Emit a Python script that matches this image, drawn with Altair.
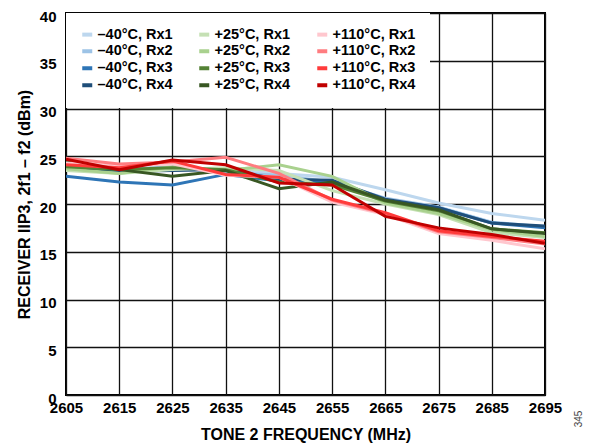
import altair as alt
import pandas as pd

freqs = [2605, 2615, 2625, 2635, 2645, 2655, 2665, 2675, 2685, 2695]

series_names = [
    "–40°C, Rx1", "–40°C, Rx2", "–40°C, Rx3", "–40°C, Rx4",
    "+25°C, Rx1", "+25°C, Rx2", "+25°C, Rx3", "+25°C, Rx4",
    "+110°C, Rx1", "+110°C, Rx2", "+110°C, Rx3", "+110°C, Rx4",
]

m40_rx1 = [23.8, 23.5, 23.8, 23.6, 23.2, 22.8, 21.5, 20.1, 19.0, 18.3]
m40_rx2 = [24.0, 23.6, 23.9, 23.3, 23.0, 22.3, 20.6, 19.7, 18.1, 17.6]
m40_rx3 = [22.9, 22.3, 22.0, 23.1, 22.4, 22.2, 20.4, 19.6, 18.0, 17.5]
m40_rx4 = [23.6, 23.4, 23.5, 23.6, 22.6, 22.5, 20.5, 19.6, 18.0, 17.7]
p25_rx1 = [23.5, 23.2, 23.6, 23.8, 23.5, 21.4, 20.0, 18.9, 17.0, 16.5]
p25_rx2 = [23.7, 23.2, 23.9, 23.5, 24.1, 22.9, 20.1, 19.0, 17.3, 16.6]
p25_rx3 = [23.9, 23.6, 23.8, 23.6, 22.3, 22.0, 20.3, 19.3, 17.4, 17.0]
p25_rx4 = [24.4, 23.6, 22.9, 23.5, 21.6, 22.3, 20.4, 19.4, 17.4, 16.9]
p110_rx1 = [24.3, 24.0, 24.2, 23.0, 22.8, 20.2, 18.9, 16.9, 16.2, 15.3]
p110_rx2 = [24.8, 24.2, 24.4, 24.9, 23.2, 20.4, 19.0, 17.1, 16.5, 15.8]
p110_rx3 = [24.1, 23.8, 24.5, 23.1, 22.8, 20.5, 19.1, 17.2, 16.6, 16.1]
p110_rx4 = [24.7, 23.6, 24.6, 24.1, 22.2, 22.0, 18.7, 17.5, 16.8, 15.9]

all_values = [m40_rx1, m40_rx2, m40_rx3, m40_rx4,
              p25_rx1, p25_rx2, p25_rx3, p25_rx4,
              p110_rx1, p110_rx2, p110_rx3, p110_rx4]

colors = ["#bdd7ee", "#9dc3e6", "#2e75b6", "#1f4e79",
          "#c5e0b4", "#a9d18e", "#548235", "#385723",
          "#ffc7ce", "#ff7c80", "#ff3b3b", "#c00000"]

x_ticks = freqs
y_ticks = [0, 5, 10, 15, 20, 25, 30, 35, 40]

rows = []
for i, (name, vals) in enumerate(zip(series_names, all_values)):
    for f, v in zip(freqs, vals):
        rows.append({"freq": f, "iip3": v, "series": name, "order": i})
df = pd.DataFrame(rows)

FONT = "Liberation Sans"

lines = alt.Chart(df).mark_line(strokeWidth=3, clip=True).encode(
    x=alt.X("freq:Q",
            scale=alt.Scale(domain=[2605, 2695], nice=False, zero=False),
            axis=alt.Axis(values=x_ticks, title="TONE 2 FREQUENCY (MHz)",
                          format="d", tickSize=0, ticks=False, labelPadding=5,
                          titlePadding=11, labelFlush=False)),
    y=alt.Y("iip3:Q",
            scale=alt.Scale(domain=[0, 40], nice=False, zero=True),
            axis=alt.Axis(values=y_ticks, title="RECEIVER IIP3, 2f1 – f2 (dBm)",
                          tickSize=0, ticks=False, labelPadding=10,
                          labelOffset=3,
                          titlePadding=7, labelFlush=False)),
    color=alt.Color("series:N",
                    scale=alt.Scale(domain=series_names, range=colors),
                    legend=alt.Legend(orient="top-left", offset=0, columns=3,
                                      title=None, fillColor="white",
                                      padding=14, symbolType="stroke",
                                      symbolStrokeWidth=4, symbolSize=100,
                                      labelFont=FONT, labelFontSize=14.5,
                                      labelFontWeight="bold", labelColor="black",
                                      rowPadding=0, columnPadding=18,
                                      gridAlign="each",
                                      labelOffset=3, labelLimit=200)),
    detail="order:O",
    order=alt.Order("order:Q"),
)

note = alt.Chart(pd.DataFrame({"t": ["345"]})).mark_text(
    angle=270, fontSize=10, font=FONT, color="#444444"
).encode(x=alt.value(513), y=alt.value(406), text="t:N")

chart = alt.layer(lines, note).properties(
    width=479, height=382,
    autosize=alt.AutoSizeParams(type="none"),
    padding={"left": 58, "top": 5, "right": 40, "bottom": 50},
).configure_view(
    stroke="black", strokeWidth=2
).configure_axis(
    grid=True, gridColor="#111111", gridWidth=1.3, gridOpacity=1,
    domain=False,
    labelFont=FONT, labelFontSize=15, labelFontWeight="bold", labelColor="black",
    titleFont=FONT, titleFontSize=16, titleFontWeight="bold", titleColor="black",
)

chart.save("out.html", embed_options={"renderer": "svg", "actions": False})
